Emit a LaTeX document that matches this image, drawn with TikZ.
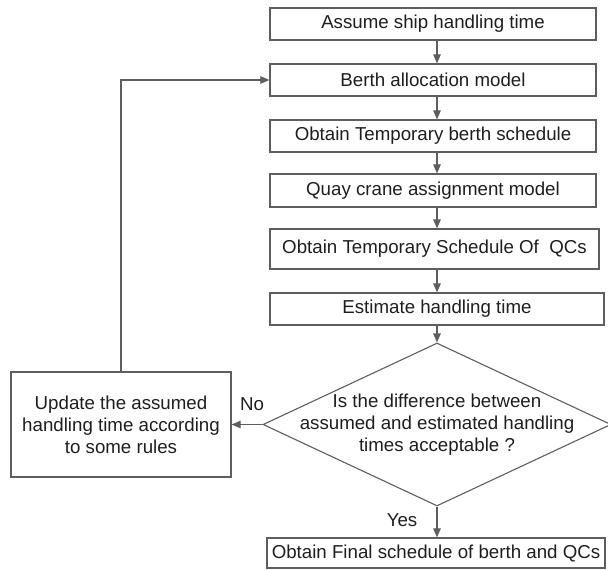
\documentclass[tikz,border=0pt]{standalone}
\usepackage{fontspec}
\setmainfont{Liberation Sans}
\usetikzlibrary{shapes.geometric,arrows.meta}
\definecolor{edge}{HTML}{5E5E5E}
\definecolor{txt}{HTML}{1E1E1E}
\begin{document}
\begin{tikzpicture}[x=1pt,y=-1pt,
  every node/.style={font=\fontsize{18.7pt}{22pt}\selectfont, text=txt},
  box/.style={draw=edge, line width=1.2pt, inner sep=0pt, rectangle, align=center},
  conn/.style={draw=edge, line width=1.1pt, -{Triangle[length=9pt,width=7.5pt]}},
  lbl/.style={inner sep=0pt}
]
\useasboundingbox (0,0) rectangle (608,570);
\node[box, minimum width=326pt, minimum height=32pt] (b1) at (433,24) {Assume ship handling time};
\node[box, minimum width=326pt, minimum height=32pt] (b2) at (433,80) {Berth allocation model};
\node[box, minimum width=326pt, minimum height=32pt] (b3) at (433,136) {Obtain Temporary berth schedule};
\node[box, minimum width=326pt, minimum height=33pt] (b4) at (433,190.5) {Quay crane assignment model};
\node[box, minimum width=329pt, minimum height=40pt] (b5) at (434.5,249) {Obtain Temporary Schedule Of~~QCs};
\node[box, minimum width=334pt, minimum height=32pt] (b6) at (437,309) {Estimate handling time};
\node[draw=edge, line width=1.1pt, diamond, inner sep=0pt, minimum width=348pt, minimum height=163pt] (d) at (437,424.5) {};
\node[align=center, inner sep=0pt] (dq) at (d.center) {Is the difference between\\assumed and estimated handling\\times acceptable ?};
\node[box, minimum width=220pt, minimum height=105pt] (up) at (121,424.5) {Update the assumed\\handling time according\\to some rules};
\node[box, minimum width=338pt, minimum height=30pt] (fin) at (436,553) {Obtain Final schedule of berth and QCs};

\draw[conn] (b1.south -| d.north) -- (b2.north -| d.north);
\draw[conn] (b2.south -| d.north) -- (b3.north -| d.north);
\draw[conn] (b3.south -| d.north) -- (b4.north -| d.north);
\draw[conn] (b4.south -| d.north) -- (b5.north -| d.north);
\draw[conn] (b5.south -| d.north) -- (b6.north -| d.north);
\draw[conn] (b6.south -| d.north) -- (d.north);
\draw[conn] (d.west) -- (up.east);
\draw[conn] (up.north) |- (b2.west);
\draw[conn] (d.south) -- (fin.north -| d.south);
\node[lbl] (no) at (252,404) {No};
\node[lbl] (yes) at (402,520) {Yes};
\end{tikzpicture}
\end{document}
